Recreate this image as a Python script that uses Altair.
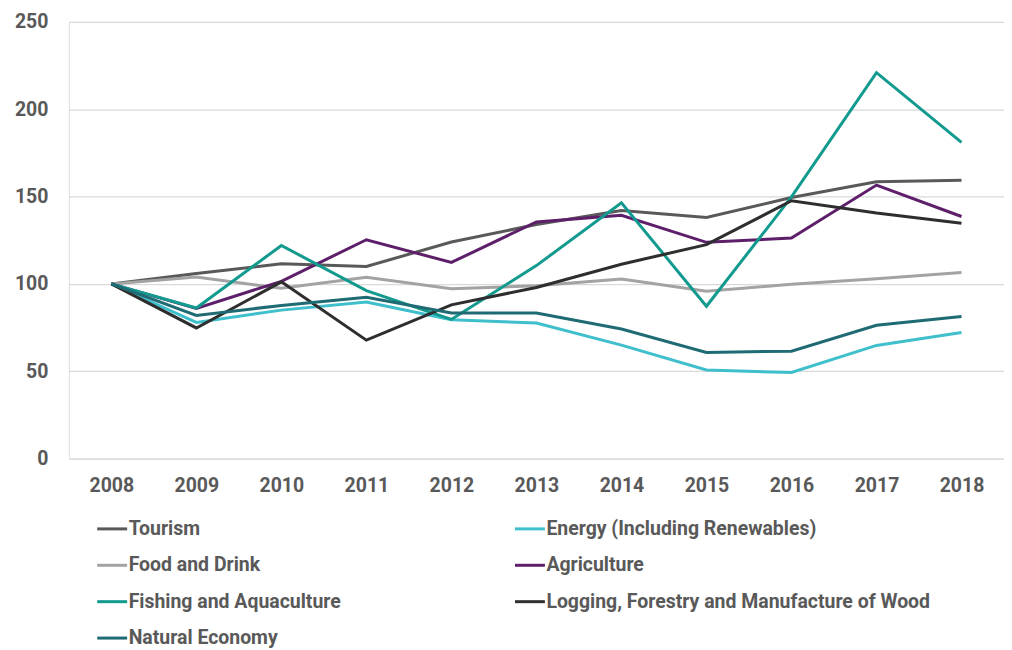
import altair as alt
import pandas as pd

years = ["2008", "2009", "2010", "2011", "2012", "2013", "2014", "2015", "2016", "2017", "2018"]

series_names = [
    "Tourism",
    "Energy (Including Renewables)",
    "Food and Drink",
    "Agriculture",
    "Fishing and Aquaculture",
    "Logging, Forestry and Manufacture of Wood",
    "Natural Economy",
]
# legend fills column by column: left column first, then right column
legend_order = [
    "Tourism",
    "Food and Drink",
    "Fishing and Aquaculture",
    "Natural Economy",
    "Energy (Including Renewables)",
    "Agriculture",
    "Logging, Forestry and Manufacture of Wood",
]

tourism = [100, 106, 111.5, 110, 124, 134, 142, 138, 149.5, 158.5, 159.3]
energy = [100, 78, 85, 89.6, 79.5, 77.6, 65, 50.7, 49.3, 64.8, 72.2]
food_drink = [100, 104, 97.5, 103.8, 97.2, 99, 102.8, 95.8, 99.8, 103, 106.5]
agriculture = [100, 86, 101.5, 125.3, 112.3, 135.5, 139.3, 123.8, 126.3, 156.6, 138.6]
fishing = [100, 86.2, 122, 96.2, 79.7, 110.5, 146.5, 87.2, 149.8, 221, 181]
logging = [100, 74.8, 101.2, 67.8, 88, 98, 111.3, 122.5, 147.6, 140.6, 134.8]
natural = [100, 82, 87.7, 92.4, 83.4, 83.4, 74.2, 60.8, 61.5, 76.3, 81.4]

color_of = {
    "Tourism": "#595959",
    "Energy (Including Renewables)": "#3fbfcc",
    "Food and Drink": "#a3a3a3",
    "Agriculture": "#5e1f6a",
    "Fishing and Aquaculture": "#129a8f",
    "Logging, Forestry and Manufacture of Wood": "#2e2e2e",
    "Natural Economy": "#1f6b74",
}

all_values = [tourism, energy, food_drink, agriculture, fishing, logging, natural]
rows = []
for i, (name, vals) in enumerate(zip(series_names, all_values)):
    for y, v in zip(years, vals):
        rows.append({"Year": y, "Value": v, "Series": name, "z": i})
df = pd.DataFrame(rows)

FONT = "Roboto"
TXT = "#595959"
FS = 19.5

chart = alt.Chart(df).mark_line(strokeWidth=3).encode(
    x=alt.X("Year:O", sort=years,
            scale=alt.Scale(paddingOuter=0.5),
            axis=alt.Axis(title=None, labelAngle=0, domain=False, ticks=False, grid=False,
                          labelPadding=18, labelFont=FONT, labelFontSize=FS,
                          labelFontWeight="bold", labelColor=TXT)),
    y=alt.Y("Value:Q", scale=alt.Scale(domain=[0, 250], nice=False),
            axis=alt.Axis(title=None, values=[0, 50, 100, 150, 200, 250],
                          domain=False, ticks=False, labelPadding=21,
                          labelFont=FONT, labelFontSize=FS, labelFontWeight="bold",
                          labelColor=TXT, gridColor="#d9d9d9", gridWidth=1.2)),
    color=alt.Color("Series:N", sort=legend_order,
                    scale=alt.Scale(domain=legend_order,
                                    range=[color_of[n] for n in legend_order]),
                    legend=alt.Legend(title=None, orient="none", legendX=27, legendY=492,
                                      columns=2, columnPadding=168, rowPadding=10.5,
                                      symbolType="stroke", symbolSize=900,
                                      symbolStrokeWidth=3, labelOffset=0,
                                      labelFont=FONT, labelFontSize=FS,
                                      labelFontWeight="bold", labelColor=TXT,
                                      labelLimit=500)),
    detail=alt.Detail("z:O"),
    order=alt.Order("Year:O"),
).properties(
    width=938, height=438,
    autosize=alt.AutoSizeParams(type="none"),
    padding={"left": 61, "top": 13, "right": 0, "bottom": 189},
).configure_view(stroke=None).configure(background="white")

chart.save("out.html", embed_options={"renderer": "svg", "actions": False})
